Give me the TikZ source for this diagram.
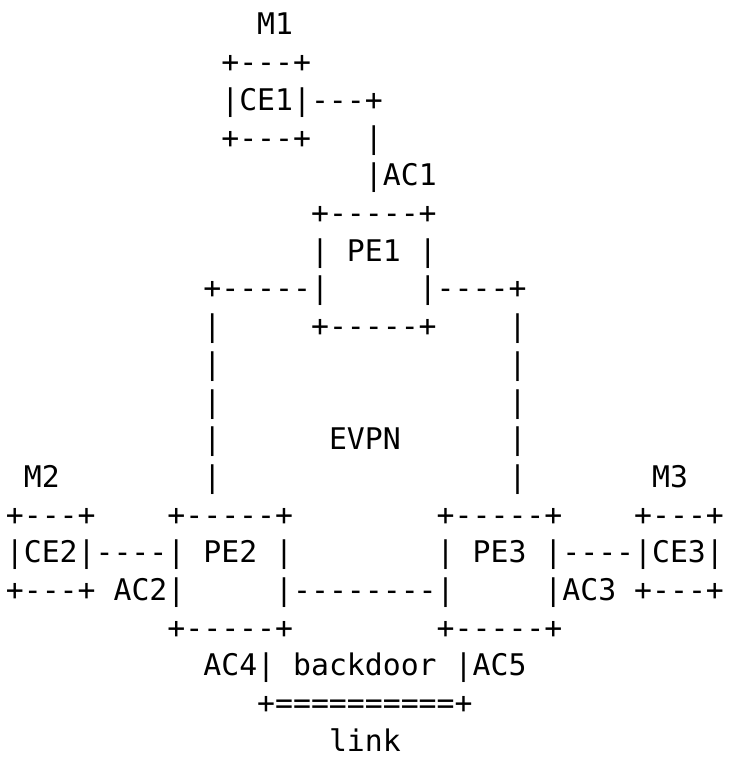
\documentclass[tikz,border=0pt]{standalone}
\usepackage{fontspec}
\setmonofont{DejaVu Sans Mono}

\begin{document}
\begin{tikzpicture}[x=17.95pt,y=-37.7pt,
  ascii/.style={font=\ttfamily\fontsize{29.8pt}{36pt}\selectfont,inner sep=0pt,outer sep=0pt,anchor=base west}]
	  \useasboundingbox (-0.329,-0.928) rectangle (40.23,19.15);
	  % CE1 on top
	  \node[ascii] (m1)     at (14,0) {M1};
	  \node[ascii] (ce1top) at (12,1) {+---+};
	  \node[ascii] (ce1)    at (12,2) {|CE1|---+};
	  \node[ascii] (ce1bot) at (12,3) {+---+};
	  \node[ascii] (ac1up)  at (20,3) {|};
	  \node[ascii] (ac1)    at (20,4) {|AC1};
	  % PE1
	  \node[ascii] (pe1top) at (17,5) {+-----+};
	  \node[ascii] (pe1l)   at (17,6) {|};
	  \node[ascii] (pe1)    at (19,6) {PE1};
	  \node[ascii] (pe1r)   at (23,6) {|};
	  \node[ascii] (pe1w)   at (11,7) {+-----|};
	  \node[ascii] (pe1e)   at (23,7) {|----+};
	  \node[ascii] (pe1bot) at (17,8) {+-----+};
	  \foreach \r in {8,...,12} {
	    \node[ascii] (evl\r) at (11,\r) {|};
	    \node[ascii] (evr\r) at (28,\r) {|};
	  }
	  \node[ascii] (evpn)   at (18,11) {EVPN};
	  \node[ascii] (m2)     at (1,12)  {M2};
	  \node[ascii] (m3)     at (36,12) {M3};
	  % CE2, PE2, PE3, CE3
	  \node[ascii] (ce2top) at (0,13)  {+---+};
	  \node[ascii] (pe2top) at (9,13)  {+-----+};
	  \node[ascii] (pe3top) at (24,13) {+-----+};
	  \node[ascii] (ce3top) at (35,13) {+---+};
	  \node[ascii] (ce2)    at (0,14)  {|CE2|----|};
	  \node[ascii] (pe2)    at (11,14) {PE2};
	  \node[ascii] (pe2r)   at (15,14) {|};
	  \node[ascii] (pe3l)   at (24,14) {|};
	  \node[ascii] (pe3)    at (26,14) {PE3};
	  \node[ascii] (ce3)    at (30,14) {|----|CE3|};
	  \node[ascii] (ce2bot) at (0,15)  {+---+};
	  \node[ascii] (ac2)    at (6,15)  {AC2|};
	  \node[ascii] (pe23)   at (15,15) {|--------|};
	  \node[ascii] (ac3)    at (30,15) {|AC3};
	  \node[ascii] (ce3bot) at (35,15) {+---+};
	  \node[ascii] (pe2bot) at (9,16)  {+-----+};
	  \node[ascii] (pe3bot) at (24,16) {+-----+};
	  % backdoor link
	  \node[ascii] (ac4)    at (11,17) {AC4|};
	  \node[ascii] (bd)     at (16,17) {backdoor};
	  \node[ascii] (ac5)    at (25,17) {|AC5};
	  \node[ascii] (bdlink) at (14,18) {+==========+};
	  \node[ascii] (link)   at (18,19) {link};
	\end{tikzpicture}
\end{document}
